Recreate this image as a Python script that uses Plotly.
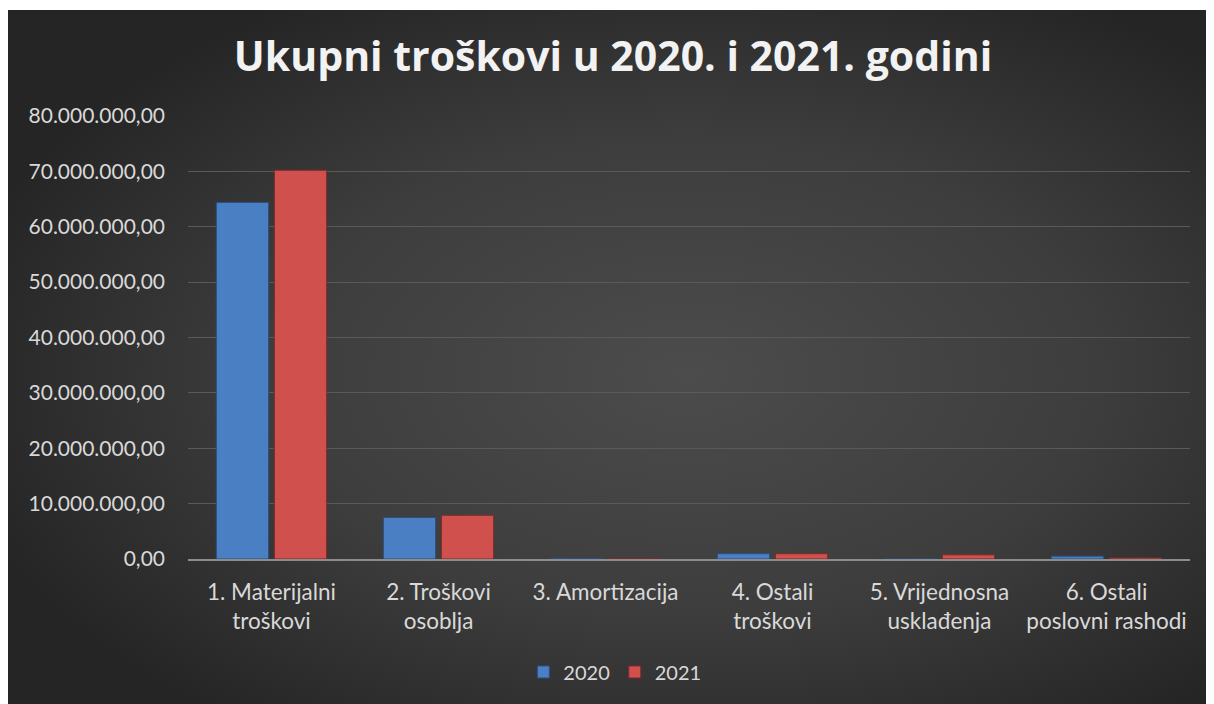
import base64
import plotly.graph_objects as go

categories = [
    "1. Materijalni<br>troškovi",
    "2. Troškovi<br>osoblja",
    "3. Amortizacija",
    "4. Ostali<br>troškovi",
    "5. Vrijednosna<br>usklađenja",
    "6. Ostali<br>poslovni rashodi",
]
values_2020 = [64_400_000, 7_500_000, 100_000, 950_000, 0, 500_000]
values_2021 = [70_200_000, 7_900_000, 100_000, 950_000, 750_000, 200_000]
y_ticks = [0, 10_000_000, 20_000_000, 30_000_000, 40_000_000,
           50_000_000, 60_000_000, 70_000_000, 80_000_000]

W, H = 1214, 704
ML, MR, MT, MB = 180, 32, 108, 153
FONT = "Lato"
TXT = "#d9d9d9"

svg = '''<svg xmlns="http://www.w3.org/2000/svg" width="1214" height="702" viewBox="0 0 1214 702" preserveAspectRatio="none">
<defs><radialGradient id="g" cx="0.56" cy="0.52" r="0.62">
<stop offset="0" stop-color="#4c4c4c"/><stop offset="0.55" stop-color="#3d3d3d"/><stop offset="1" stop-color="#252525"/>
</radialGradient></defs><rect width="1214" height="702" fill="url(#g)"/></svg>'''
bg = "data:image/svg+xml;base64," + base64.b64encode(svg.encode()).decode()

pw = W - ML - MR
ph = H - MT - MB
fx0 = (0 - ML) / pw
fx1 = (W - ML) / pw
fy1 = (H - MB - 2) / ph
fy0 = (H - MB - H) / ph

fig = go.Figure()
fig.add_trace(go.Bar(
    name="2020", x=categories, y=values_2020,
    marker=dict(color="#4a7fc4", line=dict(color="#2c4f80", width=1)),
))
fig.add_trace(go.Bar(
    name="2021", x=categories, y=values_2021,
    marker=dict(color="#cf504d", line=dict(color="#7e2b29", width=1)),
))

fig.update_layout(
    width=W, height=H,
    margin=dict(l=ML, r=MR, t=MT, b=MB),
    paper_bgcolor="white",
    plot_bgcolor="rgba(0,0,0,0)",
    separators=",.",
    barmode="group",
    bargap=0.305,
    bargroupgap=0.1,
    font=dict(family=FONT, color=TXT, size=20),
    title=dict(
        text="<b>Ukupni troškovi u 2020. i 2021. godini</b>",
        x=605 / W, xref="container", xanchor="center",
        y=1 - 49 / H, yref="container", yanchor="middle",
        font=dict(family="Open Sans", size=41, color="#f2f2f2"),
    ),
    images=[dict(
        source=bg, xref="paper", yref="paper",
        x=fx0, y=fy1, sizex=fx1 - fx0, sizey=fy1 - fy0,
        xanchor="left", yanchor="top", sizing="stretch", layer="below",
    )],
    legend=dict(
        orientation="h", x=0.426, xanchor="center", y=-0.255, yanchor="middle",
        font=dict(size=20, color=TXT), bgcolor="rgba(0,0,0,0)",
        itemwidth=30, traceorder="normal",
    ),
    xaxis=dict(
        showgrid=False, showline=True, linecolor="#8c8c8c", linewidth=2,
        ticks="", tickfont=dict(size=22.5, color=TXT), ticklabelstandoff=12,
    ),
    yaxis=dict(
        range=[0, 80_000_000], tickvals=y_ticks, tickformat=",.2f",
        showgrid=True, gridcolor="#5a5a5a", gridwidth=1,
        zeroline=False, showline=False, ticks="",
        tickfont=dict(size=21, color=TXT), ticklabelstandoff=22,
    ),
    showlegend=True,
)

fig.write_html("out.html")
